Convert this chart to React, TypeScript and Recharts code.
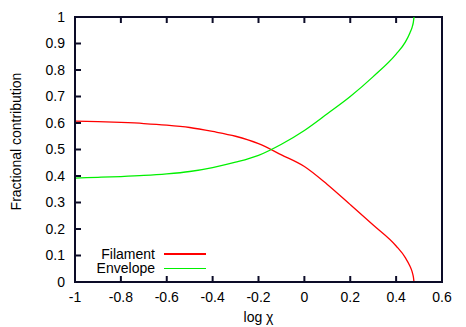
import { LineChart, Line, XAxis, YAxis, Legend, ReferenceArea } from 'recharts';

const logChi = [-1, -0.9, -0.8, -0.7, -0.6, -0.5, -0.4, -0.3, -0.2, -0.1, 0, 0.1, 0.2, 0.3, 0.4, 0.44, 0.46, 0.47, 0.475, 0.478];
const filament = [0.607, 0.605, 0.602, 0.598, 0.592, 0.583, 0.568, 0.55, 0.522, 0.48, 0.436, 0.368, 0.292, 0.215, 0.136, 0.092, 0.06, 0.038, 0.02, 0];
const envelope = [0.392, 0.395, 0.398, 0.402, 0.408, 0.417, 0.432, 0.452, 0.478, 0.52, 0.572, 0.635, 0.7, 0.775, 0.86, 0.905, 0.94, 0.962, 0.98, 1];

const seriesNames = ['Filament', 'Envelope'];
const xTicks = [-1, -0.8, -0.6, -0.4, -0.2, 0, 0.2, 0.4, 0.6];
const yTicks = [0, 0.1, 0.2, 0.3, 0.4, 0.5, 0.6, 0.7, 0.8, 0.9, 1];

const data = logChi.map((x, i) => ({ logChi: x, filament: filament[i], envelope: envelope[i] }));

const font = "'Liberation Sans', Arial, Helvetica, sans-serif";
// near-black with a slight tint; plain grey strokes did not show up
const INK = '#0c0c28';
const fmt = (v: number) => String(Number(Number(v).toFixed(1)));
const blank = () => '';
const tick = { fill: '#000', fontSize: 14, fontFamily: font };
const tickLine = { stroke: INK, strokeWidth: 2 };

const renderLegend = (props: any) => {
  const items = [...(props.payload || [])].sort(
    (a: any, b: any) => seriesNames.indexOf(a.value) - seriesNames.indexOf(b.value)
  );
  return (
    <div style={{ fontFamily: font, fontSize: 14, color: '#000' }}>
      {items.map((entry: any) => (
        <div key={entry.value} style={{ display: 'flex', alignItems: 'center', height: 14.3 }}>
          <span style={{ width: 80, textAlign: 'right', lineHeight: '14px' }}>{entry.value}</span>
          <span style={{ width: 42, marginLeft: 9, height: 1.5, background: entry.color }} />
        </div>
      ))}
    </div>
  );
};

const YLabel = (props: any) => {
  const vb = props.viewBox || { y: 17, height: 265 };
  const cy = vb.y + vb.height / 2 - 8;
  return (
    <text x={20.5} y={cy} transform={`rotate(-90 20.5 ${cy})`} textAnchor="middle"
      fontSize={14} fontFamily={font} fill="#000">
      Fractional contribution
    </text>
  );
};

export default function App() {
  return (
    <div style={{ position: 'absolute', left: 0, top: 0, background: '#fff' }}>
      <LineChart width={466} height={327} data={data} margin={{ top: 16, right: 23, bottom: 0, left: 0 }}>
        <XAxis dataKey="logChi" type="number" domain={[-1, 0.6]} ticks={xTicks} tickFormatter={fmt}
          height={45} axisLine={{ stroke: INK, strokeWidth: 2 }} tickLine={tickLine} tickSize={-6} tickMargin={16} tick={tick}
          interval={0} allowDataOverflow
          label={{ value: 'log χ', position: 'insideBottom', offset: 5.5, fill: '#000', fontSize: 14, fontFamily: font }} />
        <XAxis xAxisId="top" orientation="top" dataKey="logChi" type="number" domain={[-1, 0.6]} ticks={xTicks}
          tickFormatter={blank} height={1} axisLine={false} tickLine={tickLine} tickSize={-6}
          interval={0} allowDataOverflow />
        <YAxis type="number" domain={[0, 1]} ticks={yTicks} tickFormatter={fmt} width={75}
          axisLine={{ stroke: INK, strokeWidth: 2 }} tickLine={tickLine} tickSize={-6} tickMargin={16} tick={tick} interval={0}
          label={<YLabel />} />
        <YAxis yAxisId="right" orientation="right" type="number" domain={[0, 1]} ticks={yTicks}
          tickFormatter={blank} width={1} axisLine={false} tickLine={tickLine} tickSize={-6} interval={0} />
        <ReferenceArea x1={-1} x2={0.6} y1={0} y2={1} fill="#ffffff" fillOpacity={0} stroke={INK} strokeWidth={2} />
        <Legend layout="horizontal" verticalAlign="middle" align="center" content={renderLegend}
          wrapperStyle={{ position: 'absolute', left: 75, top: 247, width: 140 }} />
        <Line type="monotone" dataKey="filament" name="Filament" stroke="#ff0000" strokeWidth={1.3}
          dot={false} isAnimationActive={false} />
        <Line type="monotone" dataKey="envelope" name="Envelope" stroke="#00f000" strokeWidth={1.3}
          dot={false} isAnimationActive={false} />
      </LineChart>
    </div>
  );
}
